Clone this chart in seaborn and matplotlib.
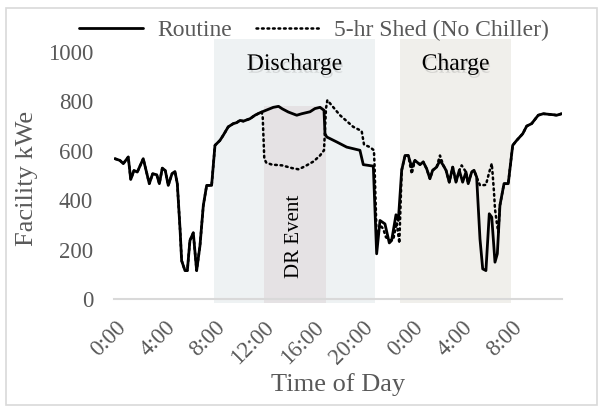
import matplotlib
matplotlib.use("Agg")
import matplotlib.pyplot as plt
import matplotlib.patheffects as pe
import pandas as pd
import seaborn as sns
from matplotlib.lines import Line2D
from matplotlib.patches import Rectangle

# ---------------- data (hours since start of day 1, facility kWe) ----------------
routine_hours = [0.00, 0.40, 0.67, 1.07, 1.27, 1.53, 1.80, 2.28, 2.77, 3.04, 3.37, 3.58, 3.82, 4.06,
                 4.30, 4.60, 4.84, 5.03, 5.25, 5.38, 5.65, 5.84, 6.05, 6.32, 6.59, 6.86, 7.13, 7.40,
                 7.80, 8.07, 8.47, 8.74, 9.14, 9.55, 9.82, 10.09, 10.36, 10.90, 11.30, 11.70, 11.84,
                 12.78, 13.20, 13.50, 13.99, 14.67, 15.07, 15.74, 16.14, 16.55, 16.87, 16.95, 17.09,
                 17.89, 18.70, 19.77, 20.04, 20.85, 21.12, 21.39, 21.79, 22.14, 22.33, 22.68, 22.87,
                 23.14, 23.41, 23.67, 23.95, 24.21, 24.62, 24.88, 25.16, 25.42, 25.64, 25.96, 26.23,
                 26.50, 26.72, 26.98, 27.26, 27.52, 27.79, 28.06, 28.33, 28.51, 28.79, 28.98, 29.19,
                 29.46, 29.68, 29.94, 30.21, 30.41, 30.67, 30.86, 31.07, 31.40, 31.74, 32.10, 32.42,
                 32.91, 33.23, 33.63, 34.16, 34.57, 35.38, 35.65, 36.05]
routine_kw = [568, 561, 548, 575, 484, 520, 514, 568, 467, 507, 503, 467, 530, 520,
              460, 507, 516, 467, 284, 155, 115, 115, 237, 268, 115, 216, 379, 460,
              460, 622, 642, 663, 697, 710, 714, 723, 720, 730, 744, 754, 757,
              776, 780, 770, 757, 744, 750, 758, 771, 776, 764, 670, 656,
              636, 615, 602, 544, 538, 183, 318, 304, 227, 237, 341, 318,
              521, 581, 581, 534, 561, 544, 555, 527, 487, 521, 534, 561,
              541, 521, 473, 534, 473, 521, 473, 514, 467, 514, 521, 494,
              243, 122, 115, 345, 331, 149, 183, 379, 467, 467, 622, 642,
              669, 700, 710, 744, 750, 746, 744, 750]

shed_hours = [0.00, 0.40, 0.67, 1.07, 1.27, 1.53, 1.80, 2.28, 2.77, 3.04, 3.37, 3.58, 3.82, 4.06,
              4.30, 4.60, 4.84, 5.03, 5.25, 5.38, 5.65, 5.84, 6.05, 6.32, 6.59, 6.86, 7.13, 7.40,
              7.80, 8.07, 8.47, 8.74, 9.14, 9.55, 9.82, 10.09, 10.36, 10.90, 11.30, 11.70, 11.84,
              11.92, 12.05, 12.21, 12.67, 13.48, 14.29, 14.82, 15.36, 16.03, 16.55, 16.87, 17.03,
              17.14, 18.16, 19.23, 19.91, 20.10, 20.58, 20.90, 20.95, 21.12, 21.39, 21.65, 21.87,
              22.20, 22.47, 22.74, 22.95, 23.14, 23.41, 23.67, 23.95, 24.21, 24.62, 24.88, 25.16,
              25.42, 25.64, 25.96, 26.23, 26.50, 26.72, 26.98, 27.26, 27.52, 27.79, 27.98, 28.33,
              28.51, 28.79, 28.98, 29.19, 29.46, 29.94, 30.21, 30.41, 30.49, 30.59, 30.67, 30.81,
              30.94, 31.07, 31.40, 31.74, 32.10, 32.42, 32.91, 33.23, 33.63, 34.16, 34.57, 35.38,
              35.65, 36.05]
shed_kw = [568, 561, 548, 575, 484, 520, 514, 568, 467, 507, 503, 467, 530, 520,
           460, 507, 516, 467, 284, 155, 115, 115, 237, 268, 115, 216, 379, 460,
           460, 622, 642, 663, 697, 710, 714, 723, 720, 730, 744, 754, 757,
           740, 568, 552, 544, 541, 530, 525, 538, 557, 581, 602, 771,
           805, 744, 697, 680, 625, 615, 602, 540, 250, 300, 284, 250,
           237, 243, 310, 226, 521, 581, 581, 507, 561, 544, 555, 527,
           487, 521, 534, 581, 541, 521, 473, 534, 473, 521, 541, 514,
           467, 514, 521, 494, 460, 462, 514, 548, 500, 433, 365, 311,
           270, 379, 467, 467, 622, 642, 669, 700, 710, 744, 750, 746,
           744, 750]

tick_hours = [0, 4, 8, 12, 16, 20, 24, 28, 32]
tick_labels = ["0:00", "4:00", "8:00", "12:00", "16:00", "20:00", "0:00", "4:00", "8:00"]
y_ticks = [0, 200, 400, 600, 800, 1000]

period_names = ["Discharge", "Charge"]
period_starts = [8, 23]
period_ends = [21, 32]
period_colors = ["#eef2f3", "#f0efeb"]
dr_label = "DR Event"
dr_start, dr_end = 12, 17

series_names = ["Routine", "5-hr Shed (No Chiller)"]

# ---------------- build frames ----------------
df_routine = pd.DataFrame({"hour": routine_hours, "kW": routine_kw})
df_shed = pd.DataFrame({"hour": shed_hours, "kW": shed_kw})

sns.set_theme(style="white")
plt.rcParams["font.family"] = ["Liberation Serif", "DejaVu Serif"]

GRAY = "#595959"
DOTS = (0, (0.7, 1.5))

fig = plt.figure(figsize=(6, 4.08), dpi=100)
ax = fig.add_axes([114 / 600, 1 - 299 / 408, 448 / 600, 247 / 408])

# shaded periods
for name, s, e, c in zip(period_names, period_starts, period_ends, period_colors):
    ax.axvspan(s, e, ymin=-0.016, ymax=1.053, color=c, zorder=0, clip_on=False, lw=0)
    ax.text((s + e) / 2, 950, name, ha="center", va="center", fontsize=17, color="black",
            zorder=5,
            path_effects=[pe.withSimplePatchShadow(offset=(1, -2), shadow_rgbFace="gray", alpha=0.25)])
ax.axvspan(dr_start, dr_end, ymin=-0.016, ymax=0.78, color="#e5e2e4", zorder=0.5, clip_on=False, lw=0)
ax.text((dr_start + dr_end) / 2, 253, dr_label, rotation=90, ha="center", va="center",
        fontsize=15, color="black", zorder=5)

# lines
sns.lineplot(data=df_shed, x="hour", y="kW", ax=ax, color="black", lw=1.8,
             linestyle=DOTS, estimator=None, zorder=3)
sns.lineplot(data=df_routine, x="hour", y="kW", ax=ax, color="black", lw=2.0,
             estimator=None, zorder=4)
ax.lines[0].set_dash_capstyle("round")

ax.set_xlim(-0.08, 36.08)
ax.set_ylim(0, 1000)
ax.set_xticks(tick_hours)
ax.set_xticklabels(tick_labels, rotation=45, ha="right", va="top", rotation_mode="anchor",
                   fontsize=16.5, color=GRAY)
ax.set_yticks(y_ticks)
ax.set_yticklabels([str(v) for v in y_ticks], fontsize=16.5, color=GRAY)
ax.tick_params(axis="x", length=0, pad=13)
ax.tick_params(axis="y", length=0, pad=15)
ax.set_xlabel("Time of Day", fontsize=19, color=GRAY, va="center")
ax.xaxis.set_label_coords(0.5, (299 - 385) / 247)
ax.set_ylabel("Facility kWe", fontsize=19, color=GRAY, va="center")
ax.yaxis.set_label_coords((27 - 114) / 448, 0.49)
for side in ["top", "right", "left"]:
    ax.spines[side].set_visible(False)
ax.spines["bottom"].set_color("#d9d9d9")
ax.spines["bottom"].set_linewidth(1.5)
ax.spines["bottom"].set_zorder(1)
ax.patch.set_alpha(0)

handles = [Line2D([0], [0], color="black", lw=2.0),
           Line2D([0], [0], color="black", lw=1.8, linestyle=DOTS, dash_capstyle="round")]
leg = fig.legend(handles, series_names, loc="center", bbox_to_anchor=(314 / 600, 1 - 30 / 408),
                 ncol=2, frameon=False, fontsize=17, handlelength=2.7, columnspacing=1.0,
                 handletextpad=0.6, labelcolor=GRAY, borderaxespad=0, borderpad=0)

fig.patches.append(Rectangle((6 / 600, 3 / 408), 591 / 600, 397 / 408, transform=fig.transFigure,
                             fill=False, edgecolor="#d9d9d9", lw=1.2))

fig.savefig("out.png", dpi=100)
